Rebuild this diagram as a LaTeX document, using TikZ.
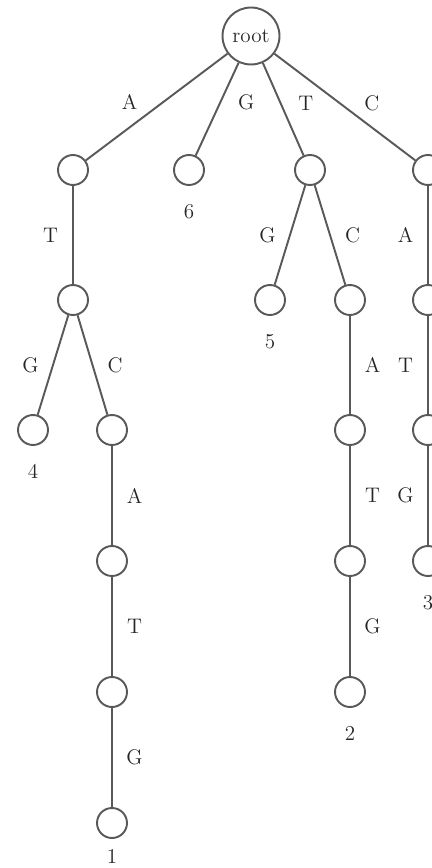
\documentclass[tikz,border=0pt]{standalone}
\usepackage{amsmath, amssymb}
\usepackage{tikz}
\usetikzlibrary{calc}

\begin{document}
\begin{tikzpicture}[x=0.02cm, y=-0.02cm,
            every node/.style={font=\large, text=black!85},
            vtx/.style={circle, draw=black!65, line width=1.1pt, minimum size=0.6cm, inner sep=0pt},
            rootvtx/.style={vtx, minimum size=1.14cm},
            trie/.style={draw=black!65, line width=1.1pt},
            symR/.style={midway, xshift=0.45cm},
            symL/.style={midway, xshift=-0.45cm},
            leaf/.style={label={[label distance=0.25cm]below:#1}}]
            \useasboundingbox (0,0) rectangle (432,868);
            \clip (0,0) rectangle (432,868);
            % vertices
            \node[rootvtx] (root) at (251,36) {root};
            \node[vtx] (nA) at (73,170) {};
            \node[vtx, leaf=6] (nG) at (189,170) {};
            \node[vtx] (nT) at (310,170) {};
            \node[vtx] (nC) at (428,170) {};
            \node[vtx] (nAT) at (73,300) {};
            \node[vtx, leaf=5] (nTG) at (270,300) {};
            \node[vtx] (nTC) at (350,300) {};
            \node[vtx] (nCA) at (428,300) {};
            \node[vtx, leaf=4] (nATG) at (33,430) {};
            \node[vtx] (nATC) at (112,430) {};
            \node[vtx] (nTCA) at (350,430) {};
            \node[vtx] (nCAT) at (428,430) {};
            \node[vtx] (nATCA) at (112,561) {};
            \node[vtx] (nTCAT) at (350,561) {};
            \node[vtx, leaf=3] (nCATG) at (428,561) {};
            \node[vtx] (nATCAT) at (112,692) {};
            \node[vtx, leaf=2] (nTCATG) at (350,692) {};
            \node[vtx, label={[label distance=0.08cm]below:1}] (nATCATG) at (112,823) {};
            % edges
            \draw[trie] (root) -- node[symL, xshift=-0.09cm, yshift=0.1cm] {A} (nA);
            \draw[trie] (root) -- node[symR, xshift=0.13cm, yshift=0.14cm] {G} (nG);
            \draw[trie] (root) -- node[symR, yshift=0.12cm] {T} (nT);
            \draw[trie] (root) -- node[symR, xshift=0.09cm, yshift=0.08cm] {C} (nC);
            \draw[trie] (nA) -- node[symL] {T} (nAT);
            \draw[trie] (nT) -- node[symL] {G} (nTG);
            \draw[trie] (nT) -- node[symR] {C} (nTC);
            \draw[trie] (nC) -- node[symL] {A} (nCA);
            \draw[trie] (nAT) -- node[symL] {G} (nATG);
            \draw[trie] (nAT) -- node[symR] {C} (nATC);
            \draw[trie] (nTC) -- node[symR] {A} (nTCA);
            \draw[trie] (nCA) -- node[symL] {T} (nCAT);
            \draw[trie] (nATC) -- node[symR] {A} (nATCA);
            \draw[trie] (nTCA) -- node[symR] {T} (nTCAT);
            \draw[trie] (nCAT) -- node[symL] {G} (nCATG);
            \draw[trie] (nATCA) -- node[symR] {T} (nATCAT);
            \draw[trie] (nTCAT) -- node[symR] {G} (nTCATG);
            \draw[trie] (nATCAT) -- node[symR] {G} (nATCATG);
\end{tikzpicture}
\end{document}
